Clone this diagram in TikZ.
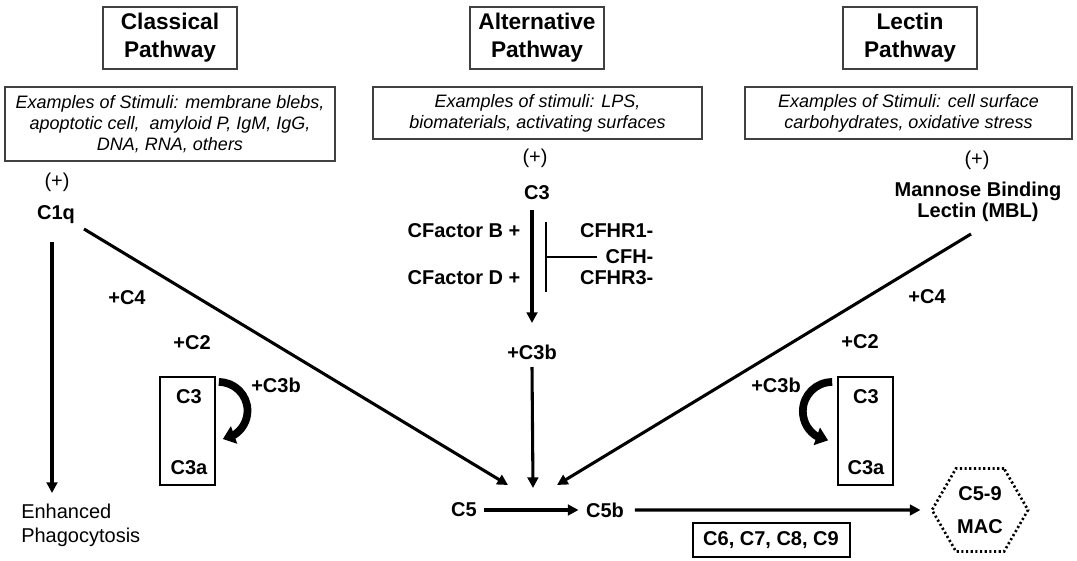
\documentclass[tikz,border=0pt]{standalone}
\usepackage{fontspec}
\setmainfont{Liberation Sans}
\usetikzlibrary{arrows.meta,bending,shapes.geometric}

\begin{document}
\begin{tikzpicture}[x=0.75pt,y=0.75pt,
    title/.style={draw=black!75, line width=1pt, align=center,
        font=\fontsize{17}{21}\selectfont\bfseries,
        minimum width=100.5pt, minimum height=46.5pt},
    stim/.style={draw=black!75, line width=0.8pt, align=center, inner sep=0pt,
        font=\fontsize{13.5}{15.75}\selectfont\itshape},
    lbl/.style={font=\fontsize{15}{16}\selectfont\bfseries, align=center, inner sep=1pt},
    txt/.style={font=\fontsize{15}{16}\selectfont, inner sep=1pt},
    cbox/.style={draw, line width=1.5pt, minimum width=41pt, minimum height=81pt},
    arr/.style={line width=2.3pt, -{Triangle[length=8pt,width=8pt]}},
    curl/.style={line width=5.8pt, -{Triangle[length=9pt,width=13.5pt,flex]}},
    bar/.style={line width=1.6pt}
]
    \useasboundingbox (0,0) rectangle (1077,-560);
    %% Pathways
    \node[title] (tcl) at (170,-38) {Classical\\Pathway};
    \node[title] (talt) at (537,-38) {Alternative\\Pathway};
    \node[title] (tlec) at (910,-38) {Lectin\\Pathway};
    %% Stimuli
    \node[stim, minimum width=247.5pt, minimum height=55.5pt] (scl) at (170,-124)
        {Examples of Stimuli: membrane blebs,\\apoptotic cell,\ \ amyloid P, IgM, IgG,\\DNA, RNA, others};
    \node[stim, minimum width=246.75pt, minimum height=39pt] (salt) at (537.5,-113)
        {Examples of stimuli: LPS,\\biomaterials, activating surfaces};
    \node[stim, minimum width=245.25pt, minimum height=39pt] (slec) at (908.5,-113)
        {Examples of Stimuli: cell surface\\carbohydrates, oxidative stress};
    \node[txt] (pcl) at (57,-182) {(+)};
    \node[txt] (palt) at (535,-158) {(+)};
    \node[txt] (plec) at (977,-160) {(+)};

    %% Classical pathway
    \node[lbl] (c1q) at (56,-215) {C1q};
    \node[lbl] (c4l) at (127,-298) {+C4};
    \node[lbl] (c2l) at (192,-343) {+C2};
    \node[cbox] (boxl) at (187.5,-431) {};
    \node[lbl] (c3l) at (189,-397) {C3};
    \node[lbl] (c3al) at (189,-468) {C3a};
    \node[lbl] (c3bl) at (276,-385) {+C3b};
    \node[font=\fontsize{15}{18}\selectfont, align=left, anchor=west, inner sep=0pt]
        (phago) at (21,-525) {Enhanced\\Phagocytosis};
    \coordinate (tph) at (52,-493);

    %% Alternative pathway
    \node[lbl] (c3alt) at (537,-193) {C3};
    \node[lbl, anchor=east] (cfb) at (522,-231) {CFactor B +};
    \node[lbl, anchor=east] (cfd) at (522,-278) {CFactor D +};
    \node[lbl, anchor=east] (cfhr1) at (655,-231) {CFHR1-};
    \node[lbl, anchor=east] (cfh) at (655,-257) {CFH-};
    \node[lbl, anchor=east] (cfhr3) at (655,-278) {CFHR3-};
    \node[lbl] (c3balt) at (532,-352) {+C3b};
    \coordinate (inh) at (546,-257);

    %% Lectin pathway
    \node[lbl] (mbl) at (978,-202) {Mannose Binding\\Lectin (MBL)};
    \node[lbl] (c4r) at (927,-297) {+C4};
    \node[lbl] (c2r) at (860,-342) {+C2};
    \node[cbox] (boxr) at (865.5,-431) {};
    \node[lbl] (c3r) at (866,-397) {C3};
    \node[lbl] (c3ar) at (866,-468) {C3a};
    \node[lbl] (c3br) at (776,-385) {+C3b};

    %% Terminal pathway
    \coordinate (m1) at (508,-485);
    \coordinate (m2) at (533,-488);
    \coordinate (m3) at (557,-485);
    \node[lbl] (c5) at (464,-510) {C5};
    \node[lbl] (c5b) at (605,-510) {C5b};
    \node[lbl, font=\fontsize{15}{25}\selectfont\bfseries, regular polygon, regular polygon sides=6,
        minimum size=72pt, inner sep=0pt, draw, line width=2pt, dash pattern=on 1.6pt off 1.9pt]
        (mac) at (980,-510) {C5-9\\MAC};
    \node[lbl, draw, line width=1.5pt, minimum width=117.75pt, minimum height=25.5pt]
        (cterm) at (771,-540) {C6, C7, C8, C9};

    %% Arrows
    \draw[arr] (c1q) ++(-4,-27) -- (tph);
    \draw[arr] (c1q) ++(28,-14) -- (m1);
    \draw[arr] (c3alt) ++(-5,-17) -- ++(0,-113);
    \draw[arr] (c3balt) ++(0,-15) -- (m2);
    \draw[arr] (mbl) ++(-7,-32) -- (m3);
    \draw[bar] (inh) ++(0,35) -- ++(0,-70);
    \draw[bar, shorten >=5pt] (inh) -- (cfh.west);
    \draw[curl] (boxl.north east) ++(3,-6) arc[start angle=90, end angle=-82, radius=21.5pt];
    \draw[curl] (boxr.north west) ++(-5,-6) arc[start angle=90, end angle=262, radius=22pt];
    \draw[arr, shorten <=4.5pt, shorten >=4.5pt] (c5) -- (c5b);
    \draw[arr, shorten <=7pt, shorten >=7.5pt] (c5b) -- (mac);
\end{tikzpicture}
\end{document}
